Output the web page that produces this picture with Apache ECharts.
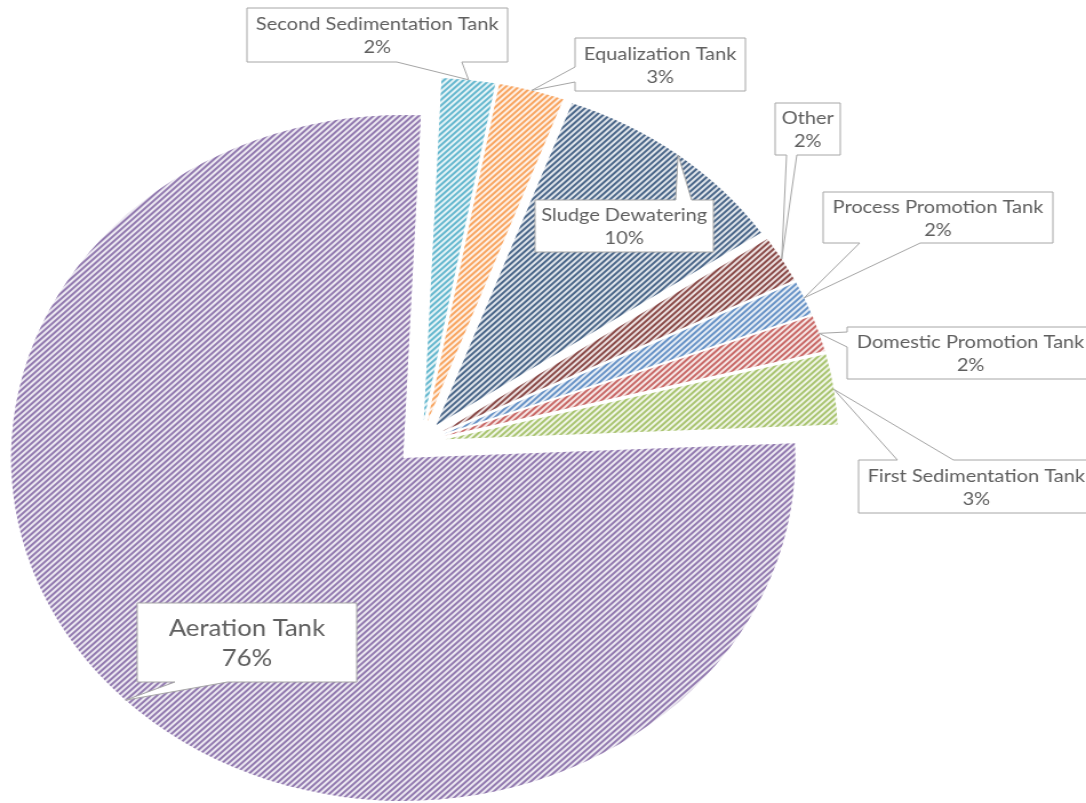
<!DOCTYPE html>
<html>
<head>
<meta charset="utf-8">
<script src="https://cdn.jsdelivr.net/npm/echarts@6/dist/echarts.min.js"></script>
<style>
  html, body { margin: 0; padding: 0; background: #ffffff; overflow: hidden; }
  #stage { width: 1086px; height: 803px; overflow: hidden; }
  /* the pie is drawn round and then widened into an ellipse */
  #main { width: 950px; height: 803px; transform: scaleX(1.1432); transform-origin: 0 0; }
</style>
</head>
<body>
<div id="stage"><div id="main"></div></div>
<script>
// Share of energy use by treatment unit (%)
const names = [
  'Process Promotion Tank',
  'Domestic Promotion Tank',
  'First Sedimentation Tank',
  'Aeration Tank',
  'Second Sedimentation Tank',
  'Equalization Tank',
  'Sludge Dewatering',
  'Other'
];
const shares = [1.6, 1.7, 3.3, 76.4, 2.2, 2.7, 9.9, 2.2];
const colors = ['#4F81BD', '#C0504D', '#9BBB59', '#8064A2', '#4BACC6', '#F79646', '#2C4D75', '#772C2A'];

// callout boxes: [x, y, w, h], side carrying the pointer, pointer base span on that side
const callouts = {
  'Second Sedimentation Tank': { box: [216, 8, 228, 54], side: 'bottom', base: [347, 404] },
  'Equalization Tank':         { box: [503, 38, 149, 53], side: 'left',   base: [67, 82] },
  'Sludge Dewatering':         { box: [468, 200, 156, 52], side: 'top',   base: [591, 605] },
  'Other':                     { box: [678, 103, 57, 52], side: 'bottom', base: [688, 697] },
  'Process Promotion Tank':    { box: [720, 192, 201, 51], side: 'bottom', base: [752, 805] },
  'Domestic Promotion Tank':   { box: [741, 327, 216, 52], side: 'left',  base: [332, 347] },
  'First Sedimentation Tank':  { box: [751, 460, 206, 53], side: 'top',   base: [785, 834] },
  'Aeration Tank':             { box: [120, 603, 192, 79], side: 'bottom', base: [153, 199], big: true }
};

function tint(hex, k) {
  const n = parseInt(hex.slice(1), 16);
  const r = (n >> 16) & 255, g = (n >> 8) & 255, b = n & 255;
  const m = c => Math.round(c + (255 - c) * k);
  return 'rgb(' + m(r) + ',' + m(g) + ',' + m(b) + ')';
}

const EXPLODE = 22;
const chart = echarts.init(document.getElementById('main'), null, { renderer: 'canvas' });

chart.setOption({
  animation: false,
  backgroundColor: '#ffffff',
  series: [{
    type: 'pie',
    center: [368.2, 442.4],
    radius: [0, 343],
    startAngle: 26.2,
    clockwise: true,
    selectedMode: 'multiple',
    selectedOffset: EXPLODE,
    avoidLabelOverlap: false,
    label: { show: false },
    labelLine: { show: false },
    emphasis: { disabled: true },
    data: names.map((name, i) => ({
      name: name,
      value: shares[i],
      selected: true,
      itemStyle: {
        color: tint(colors[i], 0.85),
        borderWidth: 0,
        decal: {
          symbol: 'rect',
          symbolSize: 1,
          dashArrayX: [1, 0],
          dashArrayY: [1.5, 1.5],
          rotation: -Math.PI / 4,
          color: tint(colors[i], 0.15)
        }
      }
    }))
  }]
});

// callouts pointing at the middle of each slice's outer arc
const total = shares.reduce((a, b) => a + b, 0);
const data = chart.getModel().getSeriesByIndex(0).getData();
const graphics = [];
names.forEach((name, i) => {
  const c = callouts[name];
  const lay = data.getItemLayout(i);
  const mid = (lay.startAngle + lay.endAngle) / 2;
  const tip = [lay.cx + Math.cos(mid) * (lay.r + EXPLODE), lay.cy + Math.sin(mid) * (lay.r + EXPLODE)];
  const [x, y, w, h] = c.box;
  const [a, b] = c.base;
  let pts;
  if (c.side === 'bottom') {
    pts = [[x, y], [x + w, y], [x + w, y + h], [b, y + h], tip, [a, y + h], [x, y + h]];
  } else if (c.side === 'top') {
    pts = [[x, y], [a, y], tip, [b, y], [x + w, y], [x + w, y + h], [x, y + h]];
  } else {
    pts = [[x, y], [x + w, y], [x + w, y + h], [x, y + h], [x, b], tip, [x, a]];
  }
  graphics.push({
    type: 'polygon',
    z: 10,
    shape: { points: pts },
    style: { fill: '#ffffff', stroke: '#a6a6a6', lineWidth: 1 }
  });
  const pct = Math.round(shares[i] / total * 100);
  graphics.push({
    type: 'text',
    z: 11,
    x: x + w / 2,
    y: y + h / 2 + 1,
    style: {
      text: name + '\n' + pct + '%',
      fill: '#5f5f5f',
      font: (c.big ? '22.5px' : '17.5px') + ' Lato, "Open Sans", sans-serif',
      lineHeight: c.big ? 30 : 23,
      align: 'center',
      verticalAlign: 'middle'
    }
  });
});
chart.setOption({ graphic: graphics });
</script>
</body>
</html>
